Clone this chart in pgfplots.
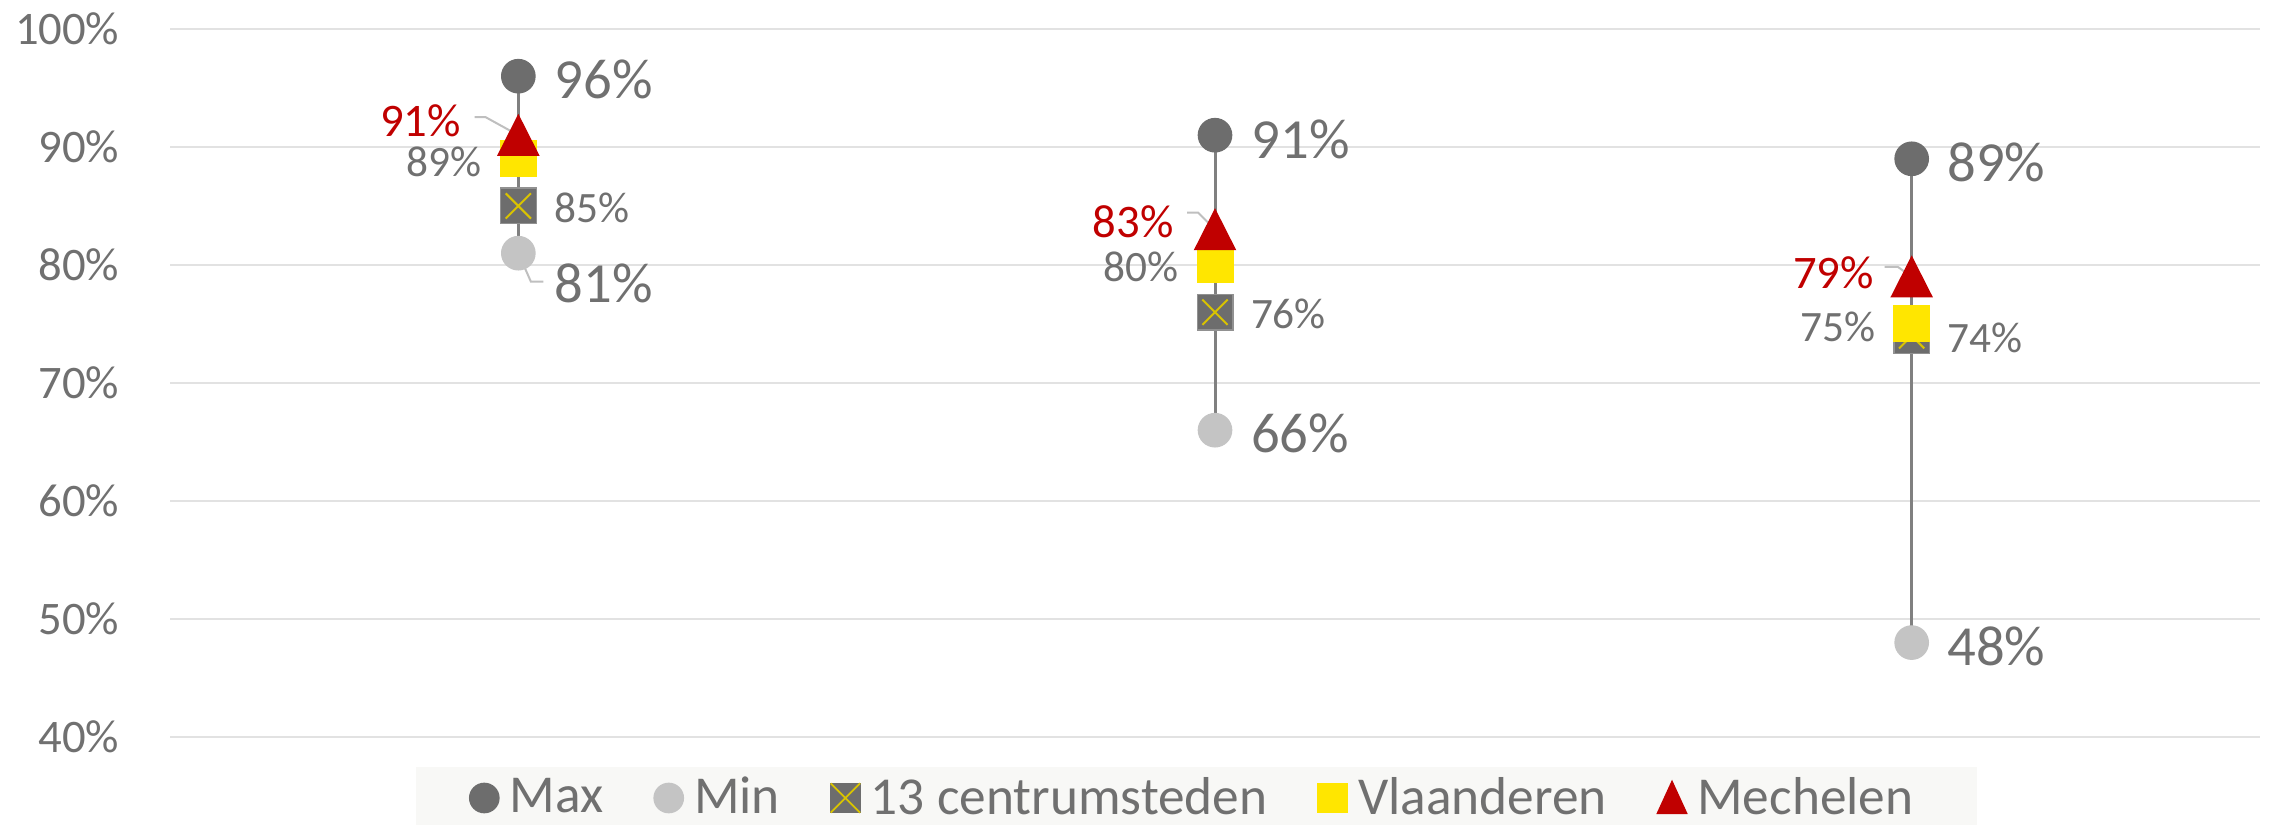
\documentclass[border=0pt]{standalone}
\usepackage{fontspec}
\setmainfont{Carlito}
\usepackage{pgfplots}
\usepackage{pgfplotstable}
\pgfplotsset{compat=1.18}

\definecolor{maxgray}{HTML}{6D6D6D}
\definecolor{mingray}{HTML}{C4C4C4}
\definecolor{vlgeel}{HTML}{FFE600}
\definecolor{mechrood}{HTML}{C00000}
\definecolor{txtgray}{HTML}{707070}
\definecolor{gridgray}{HTML}{E2E2E2}
\definecolor{linegray}{HTML}{808080}
\definecolor{legbg}{HTML}{F8F8F6}
\definecolor{leadcol}{HTML}{BFBFBF}

% x = categorie, y = percentage, dx/dy = verschuiving van het label (pt)
\pgfplotstableread{
x y dx dy
0 96 10.7 -1
1 91 10.8 -1.2
2 89 10.5 -1
}\maxdata
\pgfplotstableread{
x y dx dy
0 81 10.7 -9
1 66 10.6 -1
2 48 10.5 -1
}\mindata
\pgfplotstableread{
x y dx dy
0 85 10.7 -0.5
1 76 10.6 -0.6
2 74 10.5 -0.6
}\centrum
\pgfplotstableread{
x y dx dy
0 89 -11 -1
1 80 -10.7 -0.6
2 75 -10.8 -0.9
}\vlaanderen
\pgfplotstableread{
x y dx dy
0 91 -17.1 6.3
1 83 -12.3 4.4
2 79 -11.2 3.3
}\mechelen

\newcommand\bigfont{\fontsize{17}{19}\selectfont}
\newcommand\lblfont{\fontsize{13}{15}\selectfont}

\pgfplotsset{
  lbl/.style 2 args={
    point meta=y,
    visualization depends on={\thisrow{dx} \as \dx},
    visualization depends on={\thisrow{dy} \as \dy},
    nodes near coords={\pgfmathprintnumber{\pgfplotspointmeta}\%},
    nodes near coords style={anchor=#1, inner sep=0pt, font=#2,
      xshift=\dx pt, yshift=\dy pt}},
}

\begin{document}
\begin{tikzpicture}
\begin{axis}[
  scale only axis, width=627pt, height=212.4pt,
  xmin=-0.5, xmax=2.5, ymin=40, ymax=100,
  xtick=\empty, ytick={40,50,...,100},
  yticklabel={\pgfmathprintnumber{\tick}\%},
  /pgf/number format/assume math mode=true,
  yticklabel style={font=\fontsize{14}{16}\selectfont, text=txtgray,
    anchor=east, inner sep=0pt, xshift=-15pt},
  axis line style={draw=none}, tick style={draw=none},
  ymajorgrids, grid style={gridgray, line width=0.6pt},
  clip=false,
  legend columns=5,
  legend style={at={(0.491,0)}, anchor=north, yshift=-8.8pt,
    fill=legbg, draw=none, inner xsep=16pt, inner ysep=2pt,
    font=\fontsize{16}{18}\selectfont,
    nodes={text=txtgray, inner xsep=3pt, inner ysep=1pt},
    /tikz/every even column/.append style={column sep=12pt}},
  legend cell align=left,
]
% verbindingslijnen max-min
\addplot[linegray, line width=0.9pt, forget plot] coordinates {(0,81) (0,96)};
\addplot[linegray, line width=0.9pt, forget plot] coordinates {(1,66) (1,91)};
\addplot[linegray, line width=0.9pt, forget plot] coordinates {(2,48) (2,89)};

\addplot[only marks, mark=*, mark size=5pt, color=maxgray,
  lbl={west}{\bigfont}, nodes near coords style={text=txtgray},
  legend image code/.code={\fill[maxgray] (4.4pt,0) circle (4.4pt);}]
  table[x=x, y=y] {\maxdata};
\addlegendentry{Max}

\addplot[only marks, mark=*, mark size=5pt, color=mingray,
  lbl={west}{\bigfont}, nodes near coords style={text=txtgray},
  legend image code/.code={\fill[mingray] (4.4pt,0) circle (4.4pt);}]
  table[x=x, y=y] {\mindata};
\addlegendentry{Min}

\addplot[only marks, mark=square*, mark size=5.35pt,
  mark options={fill=maxgray, draw=maxgray!75, line width=0.4pt},
  lbl={west}{\lblfont}, nodes near coords style={text=txtgray},
  legend image code/.code={
    \fill[maxgray] (0,-4.4pt) rectangle (8.8pt,4.4pt);
    \draw[vlgeel!85!black, line width=0.5pt] (0,-4.4pt) -- (8.8pt,4.4pt) (0,4.4pt) -- (8.8pt,-4.4pt);}]
  table[x=x, y=y] {\centrum};
\addlegendentry{13 centrumsteden}
\addplot[only marks, mark=x, mark size=5.35pt, forget plot,
  mark options={draw=vlgeel!85!black, line width=0.6pt}]
  table[x=x, y=y] {\centrum};

\addplot[only marks, mark=square*, mark size=5.35pt, color=vlgeel,
  lbl={east}{\lblfont}, nodes near coords style={text=txtgray},
  legend image code/.code={\fill[vlgeel] (0,-4.4pt) rectangle (8.8pt,4.4pt);}]
  table[x=x, y=y] {\vlaanderen};
\addlegendentry{Vlaanderen}

\addplot[only marks, mark=triangle*, mark size=7pt, color=mechrood,
  mark options={yshift=-2pt, yscale=1.14},
  lbl={east}{\fontsize{14}{16}\selectfont}, nodes near coords style={text=mechrood},
  legend image code/.code={\fill[mechrood] (0,-4.6pt) -- (8.8pt,-4.6pt) -- (4.4pt,5pt) -- cycle;}]
  table[x=x, y=y] {\mechelen};
\addlegendentry{Mechelen}

% verbindingslijntjes naar de labels
\draw[leadcol, line width=0.6pt] (axis cs:0,91) -- ++(-9.8pt,5.4pt) -- ++(-3.3pt,0pt);
\draw[leadcol, line width=0.6pt] (axis cs:1,83) -- ++(-5.1pt,5.1pt) -- ++(-3.3pt,0pt);
\draw[leadcol, line width=0.6pt] (axis cs:2,79) -- ++(-4.2pt,3pt) -- ++(-3.9pt,0pt);
\draw[leadcol, line width=0.6pt] (axis cs:0,81) -- ++(3.75pt,-8.5pt) -- ++(3.75pt,0pt);
\end{axis}
\pgfresetboundingbox
\path[use as bounding box]
  ([xshift=-51pt, yshift=-26.4pt]current axis.south west)
  rectangle ([xshift=3.6pt, yshift=8.7pt]current axis.north east);
\end{tikzpicture}
\end{document}
